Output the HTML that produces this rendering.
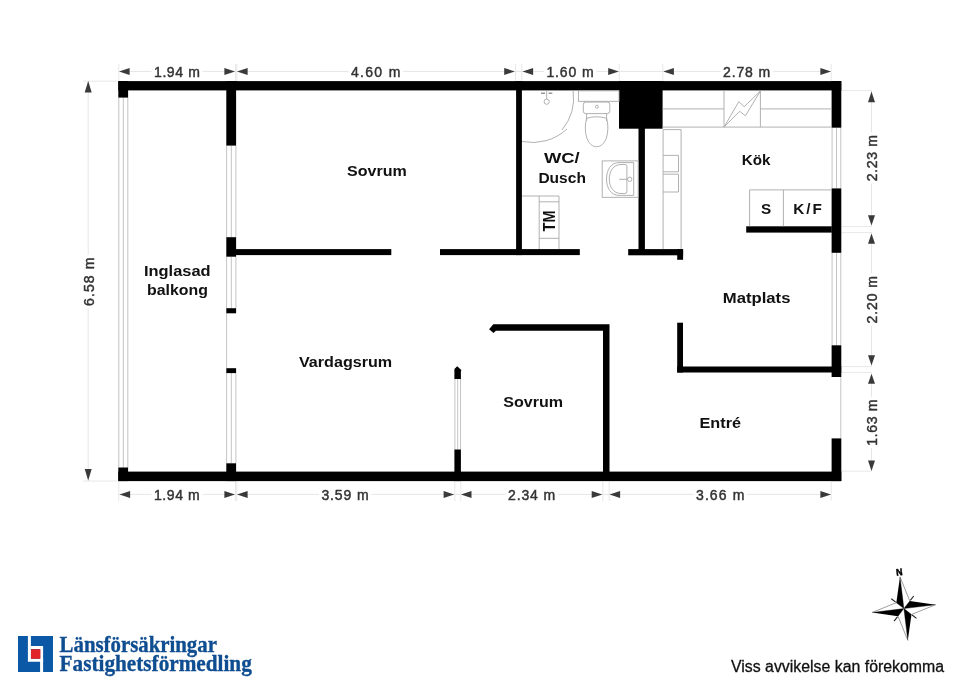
<!DOCTYPE html>
<html><head><meta charset="utf-8">
<style>
html,body{margin:0;padding:0;background:#fff;width:960px;height:679px;overflow:hidden}
svg{display:block;will-change:transform}
text{font-family:"Liberation Sans",sans-serif}
.lbl{font-weight:bold;font-size:15.3px;fill:#111}
.dim{font-weight:normal;font-size:14px;fill:#333;stroke:#333;stroke-width:0.45px}
</style></head>
<body>
<svg width="960" height="679" viewBox="0 0 960 679">
<!-- dimension lines -->
<g stroke="#e6e6e6" stroke-width="1" fill="none">
<line x1="119" y1="71.4" x2="831" y2="71.4"/>
<line x1="119" y1="494.4" x2="831" y2="494.4"/>
<path d="M871.5 91V225.6M871.5 233.6V365.6M871.5 373.7V471"/>
<line x1="88.2" y1="81" x2="88.2" y2="481"/>
</g>
<g stroke="#e8e8e8" stroke-width="1" fill="none">
<path d="M118.8 64V81M235.5 64V81M236.8 64V81M515.5 64V81M521.8 64V81M619.2 64V81M662.8 64V81M831.2 64V81"/>
<path d="M118.8 481V501M235.5 481V501M236.8 481V501M454.8 481V501M460.8 481V501M602.8 481V501M609.2 481V501M831.2 481V501"/>
<path d="M841 90.6H872M841 226.6H872M841 232.6H872M841 366.6H872M841 372.4H872M841 471.2H872"/>
<path d="M83 81.2H117M83 481H117"/>
</g>
<!-- windows -->
<g stroke="#c4c4c4" stroke-width="1" fill="none">
<path d="M118.8 97.6V467.5M123.3 97.6V467.5M127.8 97.6V467.5"/>
<path d="M226.6 145.6V237.2M231.3 145.6V237.2M235.9 145.6V237.2"/>
<path d="M226.6 256.7V308.2M231.3 256.7V308.2M235.9 256.7V308.2"/>
<path d="M226.6 313.3V368.2"/>
<path d="M226.6 373.1V463.3M231.3 373.1V463.3M235.9 373.1V463.3"/>
<path d="M454.9 378.9V449.5M457.7 378.9V449.5M460.5 378.9V449.5"/>
<path d="M832.1 127.7V188.4M836.5 127.7V188.4M840.8 127.7V188.4"/>
<path d="M832.1 252.8V345.3M836.5 252.8V345.3M840.8 252.8V345.3"/>
<path d="M840.8 377V438.4"/>
</g>
<!-- walls -->
<g fill="#000">
<rect x="118.3" y="81.1" width="723" height="9.3"/>
<rect x="118.3" y="471.6" width="723" height="9.5"/>
<rect x="118.3" y="81.1" width="9.8" height="16.5"/>
<rect x="118.3" y="467.5" width="9.8" height="13.6"/>
<rect x="226.3" y="81.1" width="9.8" height="64.5"/>
<rect x="226.3" y="237.2" width="9.8" height="19.5"/>
<rect x="226.3" y="308.2" width="9.8" height="5.1"/>
<rect x="226.3" y="368.2" width="9.8" height="4.9"/>
<rect x="226.3" y="463.3" width="9.8" height="17.8"/>
<rect x="236" y="249.1" width="155.3" height="6"/>
<rect x="440" y="249.1" width="139.8" height="6"/>
<rect x="516.1" y="81.1" width="5.8" height="174"/>
<rect x="619" y="81.1" width="43.6" height="47.6"/>
<rect x="638.5" y="128" width="6.4" height="127"/>
<rect x="628.2" y="249.1" width="54.9" height="6.2"/>
<rect x="677.2" y="249.1" width="5.9" height="10.7"/>
<rect x="831.6" y="81.1" width="9.7" height="46.6"/>
<rect x="831.6" y="188.4" width="9.7" height="64.4"/>
<rect x="831.6" y="345.3" width="9.7" height="31.7"/>
<rect x="831.6" y="438.4" width="9.7" height="42.7"/>
<rect x="746.2" y="226.3" width="85.6" height="6.3"/>
<rect x="677.2" y="322.7" width="5.8" height="49.8"/>
<rect x="677.2" y="366.5" width="164" height="6"/>
<polygon points="493.3,324.3 609.5,324.3 609.5,481 603,481 603,330.7 495.9,330.7 493.5,333.1 489.1,329.2"/>
<polygon points="454.4,369.1 457.2,366.2 461.8,370.4 460.9,370.4 460.9,378.9 454.4,378.9"/>
<rect x="454.4" y="449.5" width="6.5" height="31.6"/>
</g>
<!-- fixtures -->
<g stroke="#a8a8a8" stroke-width="0.9" fill="none">
<!-- shower -->
<path d="M573.2 91 A51.2 51.2 0 0 1 562 130"/>
<path d="M567 129 A51.2 51.2 0 0 1 522 141.5"/>
<path d="M546.7 91V99"/>
<path d="M541 93.3H545M548.6 93.3H552.3" stroke="#999" stroke-width="1.4"/>
<circle cx="546.7" cy="101.7" r="2.6"/>
<!-- toilet -->
<rect x="578.4" y="90.8" width="40.6" height="10.5"/>
<rect x="583.3" y="102.1" width="26.5" height="11.5" rx="2.5"/>
<circle cx="596.9" cy="106.7" r="1.5"/>
<path d="M586.6 113.6V121M606.6 113.6V121"/>
<path d="M586.6 118.3 Q596.6 115.2 606.6 118.3 C608.3 124 608.4 132 606.4 138 C604 144 600.5 146.7 596.6 146.7 C592.7 146.7 589.2 144 586.8 138 C584.8 132 584.9 124 586.6 118.3 Z"/>
<!-- sink -->
<rect x="602.2" y="160.9" width="36" height="36.4"/>
<path d="M633.7 162.6H619 C611 162.6 606.5 170 606.5 179 C606.5 188 611 195.4 619 195.4H633.7Z"/>
<path d="M626.9 166.5Q626.9 164.5 624.9 164.5H621C613.5 164.5 609.3 171 609.3 179C609.3 187 613.5 193.5 621 193.5H624.9Q626.9 193.5 626.9 191.5Z"/>
<path d="M619.2 179.3H627.5"/>
<circle cx="629.7" cy="179.3" r="2.2"/>
<!-- TM -->
<path d="M522 196H559V249M539.2 196V249M539.2 201.8H559M539.2 238.3H559"/>
<!-- kitchen counter top -->
<path d="M662.6 108.9H724M760.4 108.9H831.6M662.6 127.1H831.6M724 91V127.1M760.4 91V127.1"/>
<polygon points="724,127.1 738.8,101.7 744.2,106.7 760.4,91 745.4,115.8 739.6,111.3"/>
<!-- kitchen counter left -->
<path d="M663.1 129.6H681.1V249.1M663.1 129.6V249.1"/>
<path d="M663.1 155.4H678.5V171.8H663.1M663.1 174.2H678.5V192H663.1"/>
<!-- S K/F -->
<path d="M749.6 226.3V189.9H831.6M783.4 189.9V226.3"/>
</g>
<!-- arrows -->
<g fill="#3a3a3a">
<!-- top -->
<polygon points="119,71.4 129.6,67.9 129.6,74.9"/>
<polygon points="235,71.4 224.4,67.9 224.4,74.9"/>
<polygon points="237,71.4 247.6,67.9 247.6,74.9"/>
<polygon points="514.8,71.4 504.2,67.9 504.2,74.9"/>
<polygon points="522.5,71.4 533.1,67.9 533.1,74.9"/>
<polygon points="618.8,71.4 608.2,67.9 608.2,74.9"/>
<polygon points="663.3,71.4 673.9,67.9 673.9,74.9"/>
<polygon points="831,71.4 820.4,67.9 820.4,74.9"/>
<!-- bottom -->
<polygon points="119.5,494.4 130.1,490.9 130.1,497.9"/>
<polygon points="235,494.4 224.4,490.9 224.4,497.9"/>
<polygon points="237,494.4 247.6,490.9 247.6,497.9"/>
<polygon points="454.2,494.4 443.6,490.9 443.6,497.9"/>
<polygon points="460.9,494.4 471.5,490.9 471.5,497.9"/>
<polygon points="602.3,494.4 591.7,490.9 591.7,497.9"/>
<polygon points="609.5,494.4 620.1,490.9 620.1,497.9"/>
<polygon points="831,494.4 820.4,490.9 820.4,497.9"/>
<!-- right -->
<polygon points="871.5,91.6 868,102.2 875,102.2"/>
<polygon points="871.5,225.6 868,215.3 875,215.3"/>
<polygon points="871.5,233.6 868,243.8 875,243.8"/>
<polygon points="871.5,365.6 868,355.3 875,355.3"/>
<polygon points="871.5,373.7 868,383.8 875,383.8"/>
<polygon points="871.5,471 868,460.4 875,460.4"/>
<!-- left -->
<polygon points="88.2,81.1 84.7,92.5 91.7,92.5"/>
<polygon points="88.2,480.5 84.7,469.1 91.7,469.1"/>
</g>
<!-- dimension labels -->
<g fill="#fff">
<rect x="151.5" y="64" width="51" height="15"/>
<rect x="348.5" y="64" width="54.5" height="15"/>
<rect x="544" y="64" width="52.5" height="15"/>
<rect x="720.7" y="64" width="52.3" height="15"/>
<rect x="151.5" y="487" width="51" height="15"/>
<rect x="319" y="487" width="52.3" height="15"/>
<rect x="505.7" y="487" width="52.3" height="15"/>
<rect x="693.7" y="487" width="53.3" height="15"/>
<rect x="864" y="132.3" width="15" height="51.3"/>
<rect x="864" y="273.3" width="15" height="52.4"/>
<rect x="864" y="396.8" width="15" height="51.3"/>
<rect x="81" y="254.9" width="15" height="53.3"/>
</g>
<g class="dim">
<text x="154" y="76.7" textLength="45.8" lengthAdjust="spacing">1.94 m</text>
<text x="351" y="76.5" textLength="49.3" lengthAdjust="spacing">4.60 m</text>
<text x="546.4" y="76.5" textLength="47.2" lengthAdjust="spacing">1.60 m</text>
<text x="723" y="76.5" textLength="47.2" lengthAdjust="spacing">2.78 m</text>
<text x="154" y="500" textLength="45.7" lengthAdjust="spacing">1.94 m</text>
<text x="321.4" y="500" textLength="47.2" lengthAdjust="spacing">3.59 m</text>
<text x="508" y="500" textLength="47.2" lengthAdjust="spacing">2.34 m</text>
<text x="696" y="500" textLength="48.3" lengthAdjust="spacing">3.66 m</text>
<text transform="translate(877,181.3) rotate(-90)" textLength="46.3" lengthAdjust="spacing">2.23 m</text>
<text transform="translate(877,323.4) rotate(-90)" textLength="47.4" lengthAdjust="spacing">2.20 m</text>
<text transform="translate(877,445.8) rotate(-90)" textLength="46.3" lengthAdjust="spacing">1.63 m</text>
<text transform="translate(94.1,305.9) rotate(-90)" textLength="48.3" lengthAdjust="spacing">6.58 m</text>
</g>
<!-- room labels -->
<g class="lbl">
<text x="347" y="175.8" textLength="59.8" lengthAdjust="spacingAndGlyphs">Sovrum</text>
<text x="144" y="276.4" textLength="66.6" lengthAdjust="spacingAndGlyphs">Inglasad</text>
<text x="147" y="295.1" textLength="60.9" lengthAdjust="spacingAndGlyphs">balkong</text>
<text x="299" y="366.8" textLength="93.2" lengthAdjust="spacingAndGlyphs">Vardagsrum</text>
<text x="503.2" y="406.8" textLength="59.8" lengthAdjust="spacingAndGlyphs">Sovrum</text>
<text x="544" y="163.4" textLength="35.7" lengthAdjust="spacingAndGlyphs">WC/</text>
<text x="538.4" y="182.5" textLength="47.5" lengthAdjust="spacingAndGlyphs">Dusch</text>
<text x="741.7" y="164.7" textLength="28.7" lengthAdjust="spacingAndGlyphs">Kök</text>
<text x="722.8" y="303.3" textLength="67.6" lengthAdjust="spacingAndGlyphs">Matplats</text>
<text x="699.5" y="427.9" textLength="41.5" lengthAdjust="spacingAndGlyphs">Entré</text>
<text x="761" y="214">S</text>
<text x="793.2" y="214" textLength="28.6" lengthAdjust="spacing">K/F</text>
<text transform="translate(555,231.4) rotate(-90)" style="font-size:16px" textLength="20.8" lengthAdjust="spacingAndGlyphs">TM</text>
</g>
<!-- compass -->
<g transform="translate(903.9,608.6) rotate(-7)">
<g stroke="#666" stroke-width="0.6" stroke-linejoin="miter">
<polygon points="0,-32 6.8,-6.8 0,0" fill="#fff"/>
<polygon points="32,0 6.8,6.8 0,0" fill="#fff"/>
<polygon points="0,32 -6.8,6.8 0,0" fill="#fff"/>
<polygon points="-32,0 -6.8,-6.8 0,0" fill="#fff"/>
</g>
<g fill="#000">
<polygon points="0,-32 -6.8,-6.8 0,0"/>
<polygon points="32,0 6.8,-6.8 0,0"/>
<polygon points="0,32 6.8,6.8 0,0"/>
<polygon points="-32,0 -6.8,6.8 0,0"/>
</g>
<g stroke="#222" stroke-width="1.1">
<path d="M-7.4,-7.4 L-11.3,-11.3 M7.4,-7.4 L11.3,-11.3 M-7.4,7.4 L-11.3,11.3 M7.4,7.4 L11.3,11.3"/>
</g>
<text x="-3.3" y="-33.4" style="font-size:9.5px;font-weight:bold" fill="#000" stroke="#000" stroke-width="0.5" textLength="6.4" lengthAdjust="spacingAndGlyphs">N</text>
</g>
<!-- logo -->
<g>
<rect x="18" y="636" width="35" height="36" fill="#0a58a6"/>
<path d="M29.4 636V660.3H41.6V672" stroke="#fff" stroke-width="3" fill="none"/>
<path d="M30.9 647.5H41.6V662" stroke="#fff" stroke-width="3" fill="none"/>
<rect x="31" y="649.2" width="9.4" height="9.6" fill="#e2232a"/>
</g>
<text x="59.6" y="651.6" style="font-family:'Liberation Serif',serif" font-weight="bold" font-size="22.2" fill="#0f4d91" stroke="#0f4d91" stroke-width="0.35" textLength="157.3" lengthAdjust="spacingAndGlyphs">Länsförsäkringar</text>
<text x="59.6" y="671.3" style="font-family:'Liberation Serif',serif" font-weight="bold" font-size="22.2" fill="#0f4d91" stroke="#0f4d91" stroke-width="0.35" textLength="192.2" lengthAdjust="spacingAndGlyphs">Fastighetsförmedling</text>
<text x="731" y="671.7" style="font-size:16px" fill="#111" stroke="#111" stroke-width="0.3" textLength="213.1" lengthAdjust="spacingAndGlyphs">Viss avvikelse kan förekomma</text>
</svg>
</body></html>
